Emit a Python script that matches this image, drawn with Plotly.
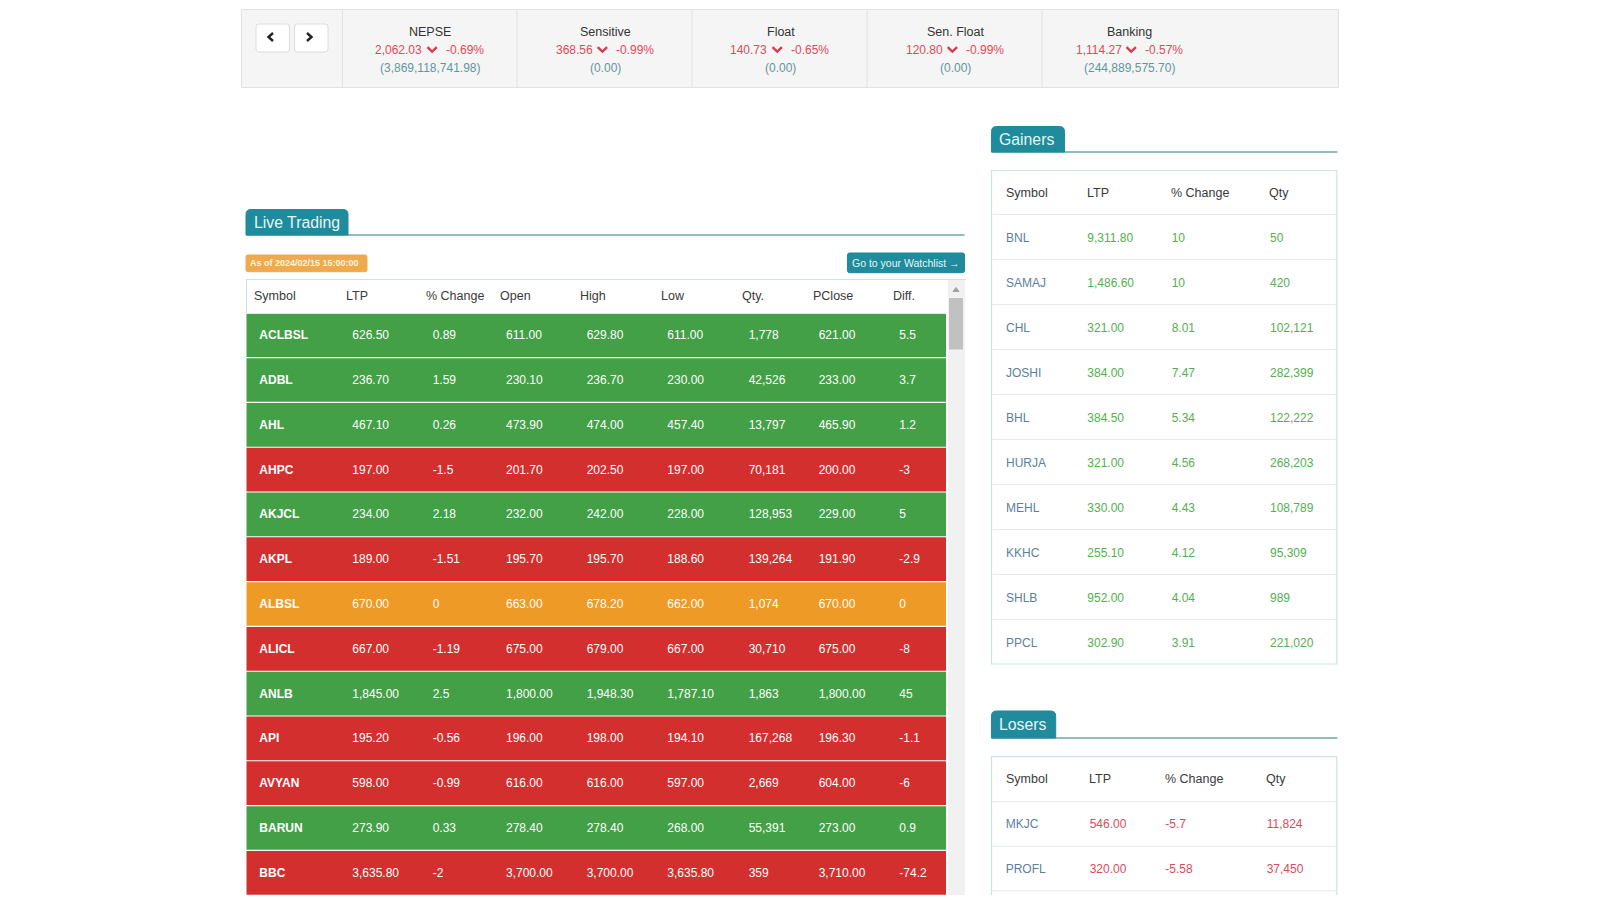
import plotly.graph_objects as go

W, H = 1600, 900
FONT = "Liberation Sans"

# index strip
index_names = ["NEPSE", "Sensitive", "Float", "Sen. Float", "Banking"]
index_values = [2062.03, 368.56, 140.73, 120.80, 1114.27]
index_changes = [-0.69, -0.99, -0.65, -0.99, -0.57]
index_turnover = [3869118741.98, 0.00, 0.00, 0.00, 244889575.70]

# live trading table
live_header = ["Symbol", "LTP", "% Change", "Open", "High", "Low", "Qty.", "PClose", "Diff."]
live_symbols = ["ACLBSL", "ADBL", "AHL", "AHPC", "AKJCL", "AKPL", "ALBSL", "ALICL",
                "ANLB", "API", "AVYAN", "BARUN", "BBC"]
live_ltp = [626.50, 236.70, 467.10, 197.00, 234.00, 189.00, 670.00, 667.00,
            1845.00, 195.20, 598.00, 273.90, 3635.80]
live_change = [0.89, 1.59, 0.26, -1.5, 2.18, -1.51, 0, -1.19, 2.5, -0.56, -0.99, 0.33, -2]
live_open = [611.00, 230.10, 473.90, 201.70, 232.00, 195.70, 663.00, 675.00,
             1800.00, 196.00, 616.00, 278.40, 3700.00]
live_high = [629.80, 236.70, 474.00, 202.50, 242.00, 195.70, 678.20, 679.00,
             1948.30, 198.00, 616.00, 278.40, 3700.00]
live_low = [611.00, 230.00, 457.40, 197.00, 228.00, 188.60, 662.00, 667.00,
            1787.10, 194.10, 597.00, 268.00, 3635.80]
live_qty = [1778, 42526, 13797, 70181, 128953, 139264, 1074, 30710,
            1863, 167268, 2669, 55391, 359]
live_pclose = [621.00, 233.00, 465.90, 200.00, 229.00, 191.90, 670.00, 675.00,
               1800.00, 196.30, 604.00, 273.00, 3710.00]
live_diff = [5.5, 3.7, 1.2, -3, 5, -2.9, 0, -8, 45, -1.1, -6, 0.9, -74.2]

# side tables
side_header = ["Symbol", "LTP", "% Change", "Qty"]
gainer_symbols = ["BNL", "SAMAJ", "CHL", "JOSHI", "BHL", "HURJA", "MEHL", "KKHC", "SHLB", "PPCL"]
gainer_ltp = [9311.80, 1486.60, 321.00, 384.00, 384.50, 321.00, 330.00, 255.10, 952.00, 302.90]
gainer_change = [10, 10, 8.01, 7.47, 5.34, 4.56, 4.43, 4.12, 4.04, 3.91]
gainer_qty = [50, 420, 102121, 282399, 122222, 268203, 108789, 95309, 989, 221020]
loser_symbols = ["MKJC", "PROFL"]
loser_ltp = [546.00, 320.00]
loser_change = [-5.7, -5.58]
loser_qty = [11824, 37450]

GREEN, RED, ORANGE = "#43a047", "#d32f2f", "#ee9a26"
TEAL = "#1f8b9c"
TAB_LINE = "#6aa9ad"
BOX_LINE = "#cfe3e3"
ROW_LINE = "#e6ebeb"
HEAD_TXT = "#3a3a3a"
UP_TXT = "#53b04f"
DOWN_TXT = "#dc4a5a"
LINK_TXT = "#5b7f9f"
VOL_TXT = "#5f97a0"


def money(vals):
    return [f"{v:,.2f}" for v in vals]


def plain(vals):
    return [f"{v:g}" for v in vals]


def count(vals):
    return [f"{v:,}" for v in vals]


def fx(x):
    return x / W


def fy(y):
    return 1 - y / H


def rect(x0, y0, x1, y1, fill="rgba(0,0,0,0)", line=None, width=1):
    return dict(type="rect", xref="paper", yref="paper", x0=fx(x0), x1=fx(x1), y0=fy(y0), y1=fy(y1),
                fillcolor=fill, line=dict(color=line or "rgba(0,0,0,0)", width=width if line else 0))


def hline(x0, x1, y, color, width=1):
    return dict(type="line", xref="paper", yref="paper", x0=fx(x0), x1=fx(x1), y0=fy(y), y1=fy(y),
                line=dict(color=color, width=width))


def path(points, color, width=2, fill=None):
    d = "M" + " L".join(f"{fx(x):.5f},{fy(y):.5f}" for x, y in points)
    if fill:
        d += " Z"
    return dict(type="path", xref="paper", yref="paper", path=d, fillcolor=fill or "rgba(0,0,0,0)",
                line=dict(color=color, width=width))


def rrect(x0, y0, x1, y1, r, fill, line=None, top_only=False):
    """rounded box, corners drawn with quadratic curves"""
    q = lambda x, y: f"{fx(x):.5f},{fy(y):.5f}"
    rb = 0 if top_only else r
    d = (f"M{q(x0 + r, y0)} L{q(x1 - r, y0)} Q{q(x1, y0)} {q(x1, y0 + r)} "
         f"L{q(x1, y1 - rb)} Q{q(x1, y1)} {q(x1 - rb, y1)} "
         f"L{q(x0 + rb, y1)} Q{q(x0, y1)} {q(x0, y1 - rb)} "
         f"L{q(x0, y0 + r)} Q{q(x0, y0)} {q(x0 + r, y0)} Z")
    return dict(type="path", xref="paper", yref="paper", path=d, fillcolor=fill,
                line=dict(color=line or fill, width=1))


def label(x, y, text, size=12, color=HEAD_TXT, anchor="left", bold=False):
    return dict(xref="paper", yref="paper", x=fx(x), y=fy(y), text=f"<b>{text}</b>" if bold else text,
                showarrow=False, xanchor=anchor, yanchor="middle", borderpad=0, borderwidth=0,
                font=dict(family=FONT, size=size, color=color))


def column(x, symbols, texts, color, yaxis, size=12, bold=False):
    return go.Scatter(x=[x] * len(symbols), y=symbols, text=texts, mode="text", yaxis=yaxis,
                      textposition="middle right", hoverinfo="skip", cliponaxis=False,
                      textfont=dict(family=FONT, size=size, color=color,
                                    weight="bold" if bold else "normal"))


def num_width(txt, size=12):
    # digits are .556em in Liberation Sans, comma and point .278em
    return sum(0.278 if c in ",." else 0.556 for c in txt) * size


shapes, notes, traces = [], [], []

# ---- index strip ----
shapes.append(rect(241.5, 9.5, 1338.5, 87.5, "#f5f5f5", "#e2e2e2"))
for x in [342.5, 517, 692, 867, 1042]:
    shapes.append(dict(type="line", xref="paper", yref="paper", x0=fx(x), x1=fx(x), y0=fy(9.5), y1=fy(87.5),
                       line=dict(color="#e2e2e2", width=1)))
for x0, x1 in [(256, 289.5), (294.5, 328)]:
    shapes.append(rrect(x0, 24, x1, 52, 3, "#ffffff", "#dcdcdc"))
shapes.append(path([(273, 33), (268.5, 37), (273, 41)], "#222222", 2.4))
shapes.append(path([(307, 33), (311.5, 37), (307, 41)], "#222222", 2.4))

index_centers = [430.4, 605.7, 780.5, 955.7, 1129.5]
for cx, name, val, chg, vol in zip(index_centers, index_names, index_values, index_changes, index_turnover):
    notes.append(label(cx, 32, name, 12.5, "#333333", "center"))
    val_txt = f"{val:,.2f}"
    # value, chevron and percent sit in one centred group
    shift = (num_width("2,062.03") - num_width(val_txt)) / 2
    notes.append(label(cx - 8 - shift, 50, val_txt, 12, DOWN_TXT, "right"))
    notes.append(label(cx + 15.5 - shift, 50, f"{chg:g}%", 12, DOWN_TXT, "left"))
    notes.append(label(cx, 67.7, f"({vol:,.2f})", 12, VOL_TXT, "center"))
    shapes.append(path([(cx - 3 - shift, 47.2), (cx + 1.7 - shift, 51.6), (cx + 6.4 - shift, 47.2)],
                       "#d93a4e", 2.4))

# ---- section tabs ----
for x0, x1, y0, y1, right, txt, ty in [(246, 348, 209.5, 235, 964.5, "Live Trading", 222.5),
                                       (991.5, 1064.5, 126.5, 152, 1337.5, "Gainers", 139.5),
                                       (991.5, 1055.7, 711, 738, 1337.5, "Losers", 724)]:
    shapes.append(hline(x0, right, y1, TAB_LINE, 1.5))
    shapes.append(rrect(x0, y0, x1, y1, 5, TEAL, top_only=True))
    notes.append(label(x0 + 7.5, ty, txt, 15.8, "#e6f6f6"))

# ---- live table ----
shapes.append(rrect(246, 255, 367, 271.7, 2, "#eeaa4c"))
notes.append(label(250, 263, "As of 2024/02/15 15:00:00", 9, "#fdf3e0", bold=True))
shapes.append(rrect(847.5, 253, 964.5, 272.7, 2, TEAL))
notes.append(label(852, 263, "Go to your Watchlist →", 10.5, "#e6f6f6"))

shapes.append(hline(246, 966, 279.5, BOX_LINE))
shapes.append(dict(type="line", xref="paper", yref="paper", x0=fx(246.5), x1=fx(246.5), y0=fy(279.5), y1=fy(313),
                   line=dict(color=BOX_LINE, width=1)))
shapes.append(rect(948, 280, 965, 895, "#f1f1f1"))
shapes.append(rect(949, 298, 963, 349.5, "#c1c1c1"))
shapes.append(path([(953, 291.5), (956, 287.5), (959, 291.5)], "#a3a3a3", 1, fill="#a3a3a3"))

live_head_x = [253.7, 345.7, 426.2, 499.5, 580, 661, 741.7, 812.8, 893.2]
for x, txt in zip(live_head_x, live_header):
    notes.append(label(x, 296, txt, 12.5, HEAD_TXT))

LIVE_TOP, LIVE_ROW = 312.8, 44.8
TEXT_DROP = 1.0  # cell text sits a pixel below the centre of its row
bar_w = 0.975
row_colors = [GREEN if c > 0 else RED if c < 0 else ORANGE for c in live_change]
traces.append(go.Bar(y=live_symbols, x=[699.5] * len(live_symbols), base=[246.5] * len(live_symbols),
                     orientation="h", width=bar_w, offset=-bar_w / 2 - TEXT_DROP / LIVE_ROW,
                     marker=dict(color=row_colors, line=dict(width=0)), hoverinfo="skip", yaxis="y"))
live_cols = [live_symbols, money(live_ltp), plain(live_change), money(live_open), money(live_high),
             money(live_low), count(live_qty), money(live_pclose), plain(live_diff)]
live_cell_x = [259.3, 352.3, 432.7, 506, 586.7, 667.3, 748.7, 818.7, 899.3]
for i, (x, col) in enumerate(zip(live_cell_x, live_cols)):
    traces.append(column(x, live_symbols, col, "#ffffff", "y", bold=i == 0))

# ---- gainers / losers ----
shapes.append(rect(991.5, 170.5, 1336.8, 664, "rgba(0,0,0,0)", BOX_LINE, 1.2))
for k in range(10):
    shapes.append(hline(992, 1336, 214.5 + 45 * k, ROW_LINE))
shapes.append(dict(type="path", xref="paper", yref="paper",
                   path=f"M{fx(991.5)},{fy(895)} L{fx(991.5)},{fy(756.7)} L{fx(1336.8)},{fy(756.7)} L{fx(1336.8)},{fy(895)}",
                   line=dict(color=BOX_LINE, width=1.2), fillcolor="rgba(0,0,0,0)"))
for y in [801.7, 846.3, 890.7]:
    shapes.append(hline(992, 1336, y, ROW_LINE))

for x, txt in zip([1005.8, 1086.5, 1171, 1269], side_header):
    notes.append(label(x, 193, txt, 12.5, HEAD_TXT))
for x, txt in zip([1005.8, 1089, 1165, 1266], side_header):
    notes.append(label(x, 779, txt, 12.5, HEAD_TXT))

for x, col, color in zip([1006, 1087.3, 1171.7, 1270],
                         [gainer_symbols, money(gainer_ltp), plain(gainer_change), count(gainer_qty)],
                         [LINK_TXT, UP_TXT, UP_TXT, UP_TXT]):
    traces.append(column(x, gainer_symbols, col, color, "y2"))
for x, col, color in zip([1005.7, 1089.7, 1165.3, 1266.7],
                         [loser_symbols, money(loser_ltp), plain(loser_change), count(loser_qty)],
                         [LINK_TXT, DOWN_TXT, DOWN_TXT, DOWN_TXT]):
    traces.append(column(x, loser_symbols, col, color, "y3"))

fig = go.Figure(traces)


def row_axis(symbols, top, row_h):
    n = len(symbols)
    return dict(type="category", categoryorder="array", categoryarray=symbols, range=[n - 0.5, -0.5],
                domain=[fy(top + n * row_h), fy(top)], visible=False, fixedrange=True, anchor="x")


fig.update_layout(
    width=W, height=H, margin=dict(l=0, r=0, t=0, b=0, pad=0),
    paper_bgcolor="#ffffff", plot_bgcolor="rgba(0,0,0,0)",
    showlegend=False, barmode="overlay", hovermode=False,
    font=dict(family=FONT, size=12),
    xaxis=dict(range=[0, W], domain=[0, 1], visible=False, fixedrange=True),
    yaxis=row_axis(live_symbols, LIVE_TOP + TEXT_DROP, LIVE_ROW),
    yaxis2=row_axis(gainer_symbols, 216, 45),
    yaxis3=row_axis(loser_symbols, 802.5, 45),
    shapes=shapes, annotations=notes,
)

fig.write_html("out.html", config=dict(displayModeBar=False),
               post_script="document.body.style.margin='0';document.body.style.overflow='hidden';")
